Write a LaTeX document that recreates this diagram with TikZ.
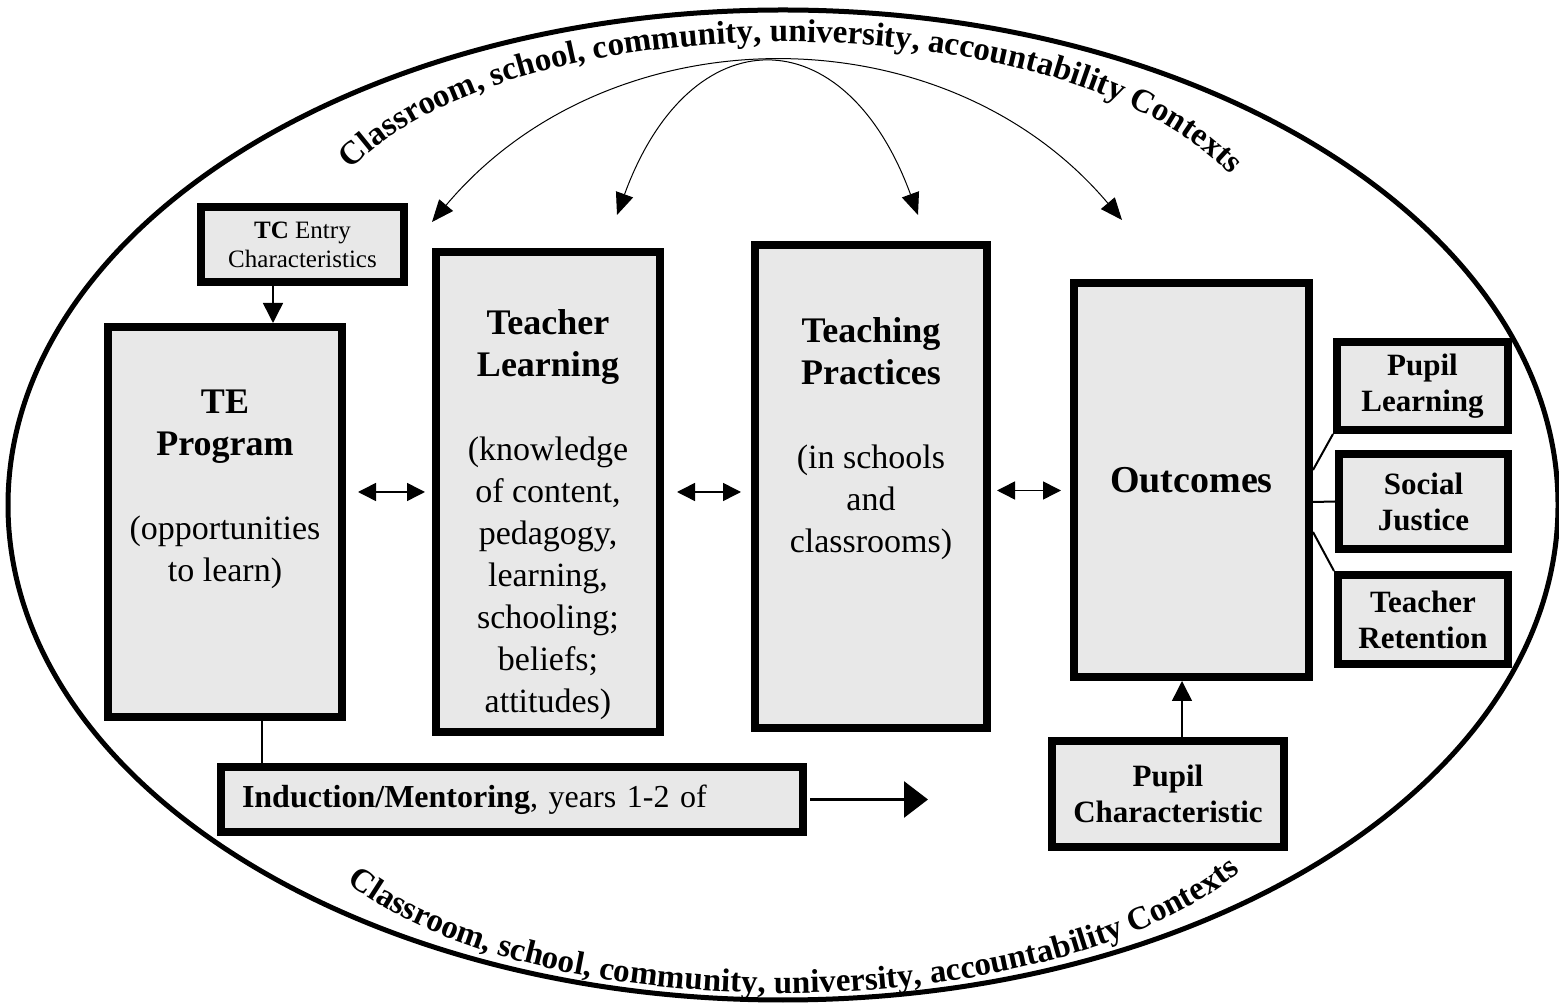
\documentclass[tikz,border=0pt]{standalone}
\usepackage{fontspec}
\setmainfont{Liberation Serif}
\usetikzlibrary{arrows.meta}
\usetikzlibrary{positioning}
\usetikzlibrary{decorations.text}
\definecolor{boxgray}{HTML}{E8E8E8}
\newcommand\ctxfont{\fontsize{16.5}{18}\selectfont\bfseries}
\newcommand\headfont{\fontsize{18}{21}\selectfont\bfseries}
\tikzset{
  frame/.style={draw, line width=4pt, fill=boxgray, inner sep=0pt, align=center},
  bodytext/.style={inner sep=0pt, align=center, font=\fontsize{17}{21}\selectfont},
  smalltext/.style={font=\fontsize{15.5}{18}\selectfont\bfseries},
  thin/.style={line width=0.75pt},
  arrowline/.style={thin, -{Triangle[length=10pt,width=10pt]}},
  twoway/.style={thin, {Triangle[length=9pt,width=9pt]}-{Triangle[length=9pt,width=9pt]}},
  arcarrow/.style={line width=0.5pt, {Triangle[length=11pt,width=9pt]}-{Triangle[length=11pt,width=9pt]}},
  ctx/.style={decorate, decoration={text along path, text align=center, text={|\ctxfont|#1}}}
}
\begin{document}
\begin{tikzpicture}[x=0.5pt,y=-0.5pt]
  \useasboundingbox (0,0) rectangle (1559,1004);
  \draw[line width=2.5pt] (783,505) ellipse [x radius=387.5pt, y radius=247.5pt];
  % contexts round the ellipse
  \path[ctx={Classroom, school, community, university, accountability Contexts}]
    (330,195) .. controls (470,-10) and (1110,-10) .. (1250,200);
  \path[ctx={Classroom, school, community, university, accountability Contexts}]
    (335,872) .. controls (520,1035) and (1060,1035) .. (1252,862);

  % boxes
  \node[frame, minimum width=101.5pt, minimum height=37.5pt, font=\fontsize{12.5}{14.5}\selectfont] (TC) at (302.5,244.5) {\textbf{TC} Entry\\Characteristics};
  \node[frame, minimum width=117pt, minimum height=195pt] (TE) at (225,522) {};
  \node[frame, minimum width=112pt, minimum height=240pt] (TL) at (548,492) {};
  \node[frame, minimum width=116pt, minimum height=241.5pt] (TP) at (871,486.5) {};
  \node[frame, minimum width=117.5pt, minimum height=197pt, font=\fontsize{19}{21}\selectfont\bfseries] (OUT) at (1191.5,480) {Outcomes};
  \node[frame, smalltext, minimum width=85.5pt, minimum height=44pt] (PL) at (1422.5,386) {Pupil\\Learning};
  \node[frame, smalltext, minimum width=84.5pt, minimum height=47.5pt] (SJ) at (1423.5,501.5) {Social\\Justice};
  \node[frame, smalltext, minimum width=85pt, minimum height=44.5pt] (TR) at (1423,619.5) {Teacher\\Retention};
  \node[frame, smalltext, minimum width=116pt, minimum height=53pt] (PC) at (1168,794) {Pupil\\Characteristic};
  \node[frame, minimum width=291pt, minimum height=32.5pt, text width=270pt, align=left, inner xsep=10.5pt, font=\fontsize{16}{18}\selectfont] (IND) at (512,799.5) {\textbf{Induction/Mentoring}, years 1-2 of};

  % texts of the tall boxes
  \node[bodytext, below=33.5pt of TE.north] (TEtxt) {{\headfont TE}\\{\headfont Program}\\[21pt](opportunities\\to learn)};
  \node[bodytext, below=30.5pt of TL.north] (TLtxt) {{\headfont Teacher}\\{\headfont Learning}\\[21pt](knowledge\\of content,\\pedagogy,\\learning,\\schooling;\\beliefs;\\attitudes)};
  \node[bodytext, below=38pt of TP.north] (TPtxt) {{\headfont Teaching}\\{\headfont Practices}\\[21pt](in schools\\and\\classrooms)};

  % connectors
  \draw[arrowline] ([xshift=-14.75pt]TC.south) -- ([xshift=-14.75pt]TC.south |- TE.north);
  \draw[thin] ([xshift=18.5pt]TE.south) -- ([xshift=18.5pt]TE.south |- IND.north);
  \draw[twoway, shorten <=6pt, shorten >=3.5pt] (TE.east |- TL.west) -- (TL.west);
  \draw[twoway, shorten <=6.5pt, shorten >=5pt] (TL.east) -- (TL.east -| TP.west);
  \draw[twoway, shorten <=3pt, shorten >=4.5pt] ([yshift=-2pt]TP.east) -- ([yshift=-2pt]TP.east -| OUT.west);
  \coordinate (indEnd) at (928,799.5);
  \draw[line width=1.5pt, -{Triangle[length=12pt,width=18pt]}, shorten <=1.5pt] (IND.east) -- (indEnd);
  \draw[arrowline] ([xshift=7pt]PC.north) -- ([xshift=7pt]PC.north |- OUT.south);
  \draw[line width=1pt] ([yshift=5pt]OUT.east) -- (PL.south west);
  \draw[line width=1pt] ([yshift=-11pt]OUT.east) -- (SJ.west);
  \draw[line width=1pt] ([yshift=-26pt]OUT.east) -- (TR.north west);

  % arrows from the contexts
  \coordinate (bigL) at (432,222);
  \coordinate (bigR) at (1122,220);
  \coordinate (smallL) at (617,215);
  \coordinate (smallR) at (918,215);
  \draw[arcarrow] (bigL) .. controls (610,10) and (945,10) .. (bigR);
  \draw[arcarrow] (smallL) .. controls (690,15) and (845,15) .. (smallR);
\end{tikzpicture}
\end{document}
